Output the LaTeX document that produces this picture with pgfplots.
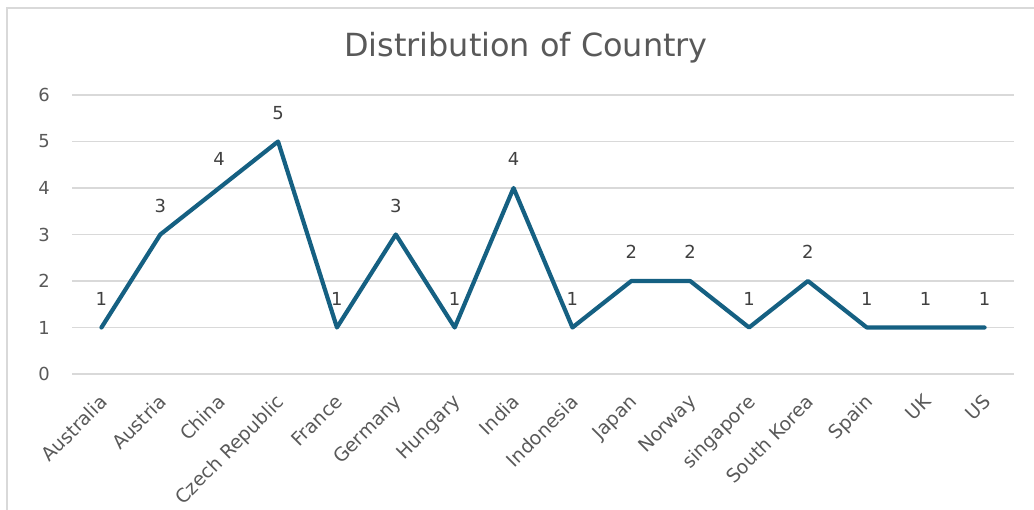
\documentclass[border=0pt]{standalone}
\usepackage{pgfplots}
\pgfplotsset{compat=1.18}
\usepackage{fontspec}
\setmainfont{DejaVu Sans}
\definecolor{linec}{HTML}{156082}
\definecolor{gridc}{HTML}{D9D9D9}
\definecolor{txt}{HTML}{595959}
\definecolor{lbl}{HTML}{404040}
\begin{document}
\begin{tikzpicture}
\useasboundingbox (-72bp,-136bp) rectangle (962bp,374bp);
\draw[gridc, line width=1.5bp] (-65bp,-136bp) -- (-65bp,366bp) -- (962bp,366bp);
\node[txt, font=\fontsize{32}{38}\selectfont] at (454bp,326bp) {Distribution of Country};
\begin{axis}[
  scale only axis,
  width=942bp, height=279bp,
  at={(0,0)}, anchor=south west,
  xmin=-0.5, xmax=15.5, ymin=0, ymax=6,
  ytick={0,1,2,3,4,5,6},
  xtick={0,...,15},
  xticklabels={Australia,Austria,China,Czech Republic,France,Germany,Hungary,India,Indonesia,Japan,Norway,singapore,South Korea,Spain,UK,US},
  axis line style={draw=none},
  major tick length=0pt,
  ymajorgrids, grid style={gridc, line width=1.2bp},
  /pgf/number format/assume math mode=true,
  yticklabel style={txt, font=\fontsize{18}{21}\selectfont, anchor=east, inner sep=0pt, xshift=-22bp},
  xticklabel style={txt, font=\fontsize{19}{23}\selectfont, xshift=-3bp, yshift=-19bp, rotate=45, anchor=north east, inner sep=0pt},
  nodes near coords,
  every node near coord/.append style={lbl, font=\fontsize{18}{21}\selectfont, anchor=south, inner sep=0pt, yshift=20bp},
  clip=false,
]
\addplot[linec, line width=4.2bp, line join=round, line cap=round] coordinates {
(0,1) (1,3) (2,4) (3,5) (4,1) (5,3) (6,1) (7,4) (8,1) (9,2) (10,2) (11,1) (12,2) (13,1) (14,1) (15,1)
};
\end{axis}
\end{tikzpicture}
\end{document}
